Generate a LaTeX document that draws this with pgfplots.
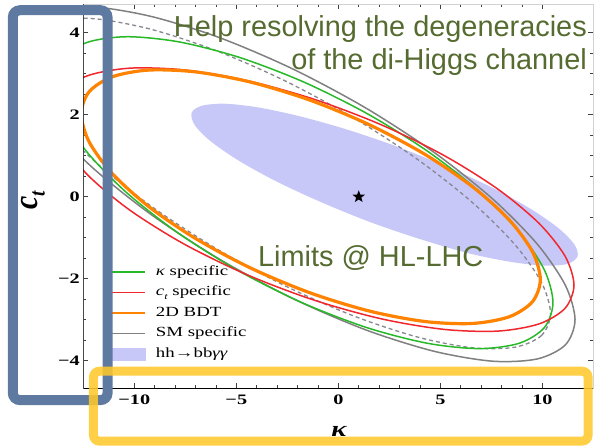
\documentclass[border=0pt]{standalone}
\usepackage{fontspec}
\setmainfont{Liberation Serif}
\newfontfamily\annfont{Liberation Sans}
\newfontfamily\tickfont[FakeStretch=1.4]{Liberation Serif}
\newfontfamily\legfont[FakeStretch=1.35]{Liberation Serif}
\newfontfamily\labfont[FakeStretch=1.3]{Liberation Serif}
\usepackage{graphicx}
\usepackage{pgfplots}
\pgfplotsset{compat=1.18}

\definecolor{greenC}{RGB}{40,185,40}
\definecolor{redC}{RGB}{240,40,45}
\definecolor{orangeC}{RGB}{255,130,0}
\definecolor{grayC}{RGB}{128,128,128}
\definecolor{dashC}{RGB}{135,135,145}
\definecolor{fillC}{RGB}{200,200,248}
\definecolor{annC}{RGB}{85,107,47}
\definecolor{boxB}{RGB}{95,122,160}
\definecolor{boxY}{RGB}{255,200,45}

\pgfdeclareplotmark{fstar}{%
  \pgfpathmoveto{\pgfpointpolar{90}{\pgfplotmarksize}}%
  \pgfpathlineto{\pgfpointpolar{126}{0.42\pgfplotmarksize}}%
  \pgfpathlineto{\pgfpointpolar{162}{\pgfplotmarksize}}%
  \pgfpathlineto{\pgfpointpolar{198}{0.42\pgfplotmarksize}}%
  \pgfpathlineto{\pgfpointpolar{234}{\pgfplotmarksize}}%
  \pgfpathlineto{\pgfpointpolar{270}{0.42\pgfplotmarksize}}%
  \pgfpathlineto{\pgfpointpolar{306}{\pgfplotmarksize}}%
  \pgfpathlineto{\pgfpointpolar{342}{0.42\pgfplotmarksize}}%
  \pgfpathlineto{\pgfpointpolar{18}{\pgfplotmarksize}}%
  \pgfpathlineto{\pgfpointpolar{54}{0.42\pgfplotmarksize}}%
  \pgfpathclose
  \pgfusepathqfill
}

\begin{document}
\begin{tikzpicture}
\begin{axis}[
  scale only axis, width=510bp, height=384bp,
  xmin=-12.5, xmax=12.5, ymin=-4.67, ymax=4.7,
  xtick={-10,-5,0,5,10}, xticklabels={−10,−5,0,5,10},
  ytick={-4,-2,0,2,4}, yticklabels={−4,−2,0,2,4},
  minor x tick num=4, minor y tick num=3,
  tick align=inside,
  major tick length=5bp, minor tick length=3bp,
  tick style={black!75, line width=0.6bp},
  ticklabel style={font=\tickfont\bfseries\fontsize{14.5}{14.5}\selectfont},
  xticklabel style={yshift=-3bp},
  axis line style={gray!35, line width=0.8bp},
  legend cell align=left,
  legend style={draw=none, fill=none, at={(axis cs:-11.19,-1.645)}, anchor=north west,
    inner sep=0pt, row sep=5.5bp, column sep=9bp,
    font=\legfont\fontsize{14}{14}\selectfont,
    nodes={inner sep=1bp, text height=10bp, text depth=3bp}},
]
% hh -> bb gamma gamma region
\addplot[fill=fillC, draw=none, smooth cycle, forget plot] coordinates {
(11.72,-1.46) (11.22,-1.64) (10.11,-1.68) (8.46,-1.59) (6.39,-1.38) (4.05,-1.04)
(1.57,-0.62) (-0.85,-0.13) (-3.06,0.38) (-4.91,0.89) (-6.27,1.36) (-7.04,1.75)
(-7.19,2.05) (-6.69,2.22) (-5.57,2.27) (-3.93,2.18) (-1.86,1.96) (0.49,1.63)
(2.96,1.21) (5.38,0.72) (7.59,0.21) (9.44,-0.30) (10.80,-0.77) (11.58,-1.17)
};
% SM specific (gray solid)
\addplot[grayC, line width=1.5bp, smooth cycle, forget plot] coordinates {
(11.6,-3.00) (11.129,-3.612) (9.751,-3.956) (7.558,-4.011) (4.70,-3.77) (1.371,-3.252)
(-2.2,-2.49) (-5.771,-1.538) (-9.10,-0.46) (-11.958,0.671) (-14.151,1.776) (-15.529,2.782)
(-16.0,3.62) (-15.529,4.232) (-14.151,4.576) (-11.958,4.631) (-9.10,4.39) (-5.771,3.872)
(-2.2,3.11) (1.371,2.158) (4.70,1.08) (7.558,-0.051) (9.751,-1.156) (11.129,-2.162)
};
% dashed gray
\addplot[dashC, line width=1.3bp, dash pattern=on 4bp off 3bp, smooth cycle, forget plot] coordinates {
(10.4,-2.845) (9.957,-3.384) (8.658,-3.67) (6.592,-3.685) (3.9,-3.425) (0.764,-2.91)
(-2.6,-2.175) (-5.964,-1.27) (-9.1,-0.255) (-11.792,0.799) (-13.858,1.82) (-15.157,2.74)
(-15.6,3.495) (-15.157,4.034) (-13.858,4.32) (-11.792,4.335) (-9.1,4.075) (-5.964,3.56)
(-2.6,2.825) (0.764,1.92) (3.9,0.905) (6.592,-0.149) (8.658,-1.17) (9.957,-2.09)
};
% kappa specific (green)
\addplot[greenC, line width=1.5bp, smooth cycle, forget plot] coordinates {
(10.52,-2.58) (10.103,-3.188) (8.883,-3.571) (6.941,-3.704) (4.41,-3.578) (1.463,-3.202)
(-1.7,-2.60) (-4.863,-1.814) (-7.81,-0.898) (-10.341,0.086) (-12.283,1.071) (-13.503,1.99)
(-13.92,2.78) (-13.503,3.388) (-12.283,3.771) (-10.341,3.904) (-7.81,3.778) (-4.863,3.402)
(-1.7,2.80) (1.463,2.014) (4.41,1.098) (6.941,0.114) (8.883,-0.871) (10.103,-1.79)
};
% c_t specific (red)
\addplot[redC, line width=1.5bp, smooth cycle, forget plot] coordinates {
(11.55,-2.156) (11.115,-2.719) (9.842,-3.101) (7.816,-3.277) (5.175,-3.235) (2.10,-2.977)
(-1.2,-2.52) (-4.50,-1.897) (-7.575,-1.149) (-10.216,-0.327) (-12.242,0.511) (-13.515,1.311)
(-13.95,2.016) (-13.515,2.579) (-12.242,2.961) (-10.216,3.137) (-7.575,3.095) (-4.50,2.837)
(-1.2,2.38) (2.10,1.757) (5.175,1.009) (7.816,0.187) (9.842,-0.651) (11.115,-1.451)
};
% 2D BDT (orange)
\addplot[orangeC, line width=3.2bp, smooth cycle, forget plot] coordinates {
(9.90,-2.02) (9.516,-2.559) (8.393,-2.924) (6.605,-3.090) (4.275,-3.045) (1.562,-2.793)
(-1.35,-2.35) (-4.262,-1.747) (-6.975,-1.025) (-9.305,-0.234) (-11.093,0.574) (-12.216,1.343)
(-12.60,2.02) (-12.216,2.559) (-11.093,2.924) (-9.305,3.090) (-6.975,3.045) (-4.262,2.793)
(-1.35,2.35) (1.562,1.747) (4.275,1.025) (6.605,0.234) (8.393,-0.574) (9.516,-1.343)
};
% best fit point
\addplot[only marks, mark=fstar, mark size=6.5bp, black, forget plot] coordinates {(1,0)};

\addlegendimage{legend image code/.code={\draw[greenC, line width=1.5bp] (0bp,0bp) -- (34bp,0bp);}}
\addlegendentry{{\itshape κ} specific}
\addlegendimage{legend image code/.code={\draw[redC, line width=1.5bp] (0bp,0bp) -- (34bp,0bp);}}
\addlegendentry{{\itshape c}\raisebox{-0.25em}{\fontsize{9}{9}\selectfont\itshape t} specific}
\addlegendimage{legend image code/.code={\draw[orangeC, line width=1.8bp] (0bp,0bp) -- (34bp,0bp);}}
\addlegendentry{2D BDT}
\addlegendimage{legend image code/.code={\draw[grayC, line width=1.5bp] (0bp,0bp) -- (34bp,0bp);}}
\addlegendentry{SM specific}
\addlegendimage{legend image code/.code={\fill[fillC] (0bp,-6bp) rectangle (34bp,6bp);}}
\addlegendentry{hh→bb{\itshape γγ}}

% annotations
\node[anchor=base east, text=annC, font=\annfont\fontsize{29}{33}\selectfont, inner sep=0pt] at (axis cs:12.19,3.92) {Help resolving the degeneracies};
\node[anchor=base east, text=annC, font=\annfont\fontsize{29}{33}\selectfont, inner sep=0pt] at (axis cs:12.19,3.114) {of the di-Higgs channel};
\node[anchor=base west, text=annC, font=\annfont\fontsize{29}{33}\selectfont, inner sep=0pt] at (axis cs:-3.94,-1.693) {Limits @ HL-LHC};

\draw[black, line width=0.9bp] (rel axis cs:0,1) -- (rel axis cs:0,0) -- (rel axis cs:1,0);

\coordinate (ylab) at (axis cs:-14.97,-0.083);
\coordinate (xlab) at (axis cs:0.03,-5.72);
\coordinate (B1) at (axis cs:-15.95,4.55);
\coordinate (B2) at (axis cs:-11.31,-4.96);
\coordinate (Y1) at (axis cs:-12.0,-4.256);
\coordinate (Y2) at (axis cs:12.24,-5.96);
\coordinate (bbA) at (axis cs:-16.58,4.80);
\coordinate (bbB) at (axis cs:13.02,-6.085);
\end{axis}
\node[rotate=90, inner sep=0pt] at (ylab) {\scalebox{1}[1.15]{\fontsize{30}{30}\selectfont\bfseries\itshape c\raisebox{-0.22em}{\fontsize{19}{19}\selectfont t}}};
\node[inner sep=0pt] at (xlab) {\labfont\fontsize{22}{22}\selectfont\bfseries\itshape κ};
\draw[boxB, line width=10bp, rounded corners=7bp] (B1) rectangle (B2);
\draw[boxY, line width=9bp, rounded corners=6bp, opacity=0.88] (Y1) rectangle (Y2);
\pgfresetboundingbox
\path[use as bounding box] (bbA) rectangle (bbB);
\end{tikzpicture}
\end{document}
